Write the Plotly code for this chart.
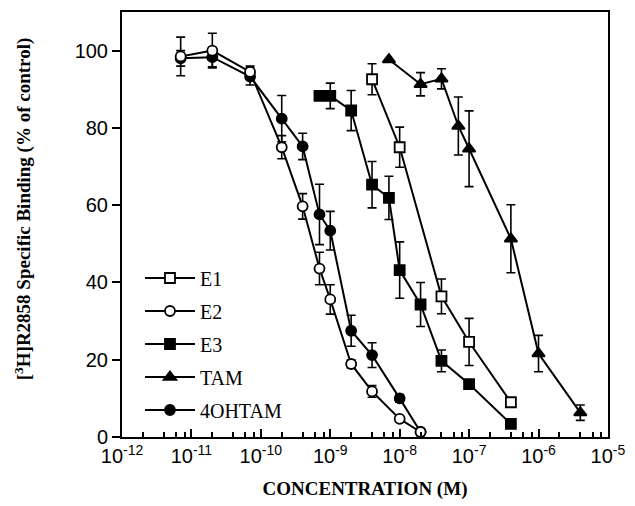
import plotly.graph_objects as go

# Concentrations (M)
e1_x = [4e-9, 1e-8, 4e-8, 1e-7, 4e-7]
e1_y = [92.6, 75.0, 36.4, 24.6, 9.0]
e1_err = [4.0, 5.2, 4.5, 6.1, 1.0]

e2_x = [7e-12, 2e-11, 7e-11, 2e-10, 4e-10, 7e-10, 1e-9, 2e-9, 4e-9, 1e-8, 2e-8]
e2_y = [98.5, 100.0, 94.5, 75.0, 59.7, 43.6, 35.6, 18.9, 11.8, 4.7, 1.3]
e2_err = [5.0, 4.5, 1.5, 3.0, 3.3, 4.2, 3.8, 1.0, 1.5, 0.5, 0.5]

e3_x = [7e-10, 1e-9, 2e-9, 4e-9, 7e-9, 1e-8, 2e-8, 4e-8, 1e-7, 4e-7]
e3_y = [88.3, 88.3, 84.5, 65.3, 61.9, 43.2, 34.3, 19.7, 13.7, 3.4]
e3_err = [0.0, 3.3, 5.2, 6.0, 5.6, 7.3, 5.7, 2.8, 0.5, 0.3]

tam_x = [7e-9, 2e-8, 4e-8, 7e-8, 1e-7, 4e-7, 1e-6, 4e-6]
tam_y = [97.7, 91.3, 92.7, 80.5, 74.6, 51.3, 21.6, 6.3]
tam_err = [0.0, 3.0, 2.6, 7.5, 9.8, 8.8, 4.7, 2.0]

oh_x = [7e-12, 2e-11, 7e-11, 2e-10, 4e-10, 7e-10, 1e-9, 2e-9, 4e-9, 1e-8, 2e-8]
oh_y = [98.0, 98.3, 93.3, 82.4, 75.2, 57.6, 53.4, 27.5, 21.2, 10.0, 1.3]
oh_err = [2.0, 2.5, 2.2, 6.0, 3.4, 7.8, 5.0, 4.0, 3.2, 1.0, 0.5]

x_ticks = [1e-12, 1e-11, 1e-10, 1e-9, 1e-8, 1e-7, 1e-6, 1e-5]
x_tick_text = ["10<sup>-12</sup>", "10<sup>-11</sup>", "10<sup>-10</sup>", "10<sup>-9</sup>",
               "10<sup>-8</sup>", "10<sup>-7</sup>", "10<sup>-6</sup>", "10<sup>-5</sup>"]
y_ticks = [0, 20, 40, 60, 80, 100]

BLACK = "#000000"
SERIF = "Liberation Serif, Times New Roman, serif"
SANS = "Liberation Sans, Arial, sans-serif"

def trace(name, x, y, err, symbol, fill, rank):
    return go.Scatter(
        x=x, y=y, name=name, mode="lines+markers",
        line=dict(color=BLACK, width=2),
        marker=dict(symbol=symbol, size=10 if "triangle" not in symbol else 11,
                    color=fill, line=dict(color=BLACK, width=1.8)),
        error_y=dict(type="data", array=err, visible=True, color=BLACK,
                     thickness=1.6, width=4.5),
        legendrank=rank, legendgroup=name,
    )

fig = go.Figure()
fig.add_trace(trace("4OHTAM", oh_x, oh_y, oh_err, "circle", BLACK, 5))
fig.add_trace(trace("E2", e2_x, e2_y, e2_err, "circle", "white", 2))
fig.add_trace(trace("E3", e3_x, e3_y, e3_err, "square", BLACK, 3))
fig.add_trace(trace("E1", e1_x, e1_y, e1_err, "square", "white", 1))
fig.add_trace(trace("TAM", tam_x, tam_y, tam_err, "triangle-up", BLACK, 4))

minor_vals = []
for d in range(-12, -5):
    for m in [2, 4, 6, 8]:
        minor_vals.append(m * 10 ** d)

fig.update_layout(
    width=635, height=506,
    margin=dict(l=122, r=22, t=10, b=65),
    paper_bgcolor="white", plot_bgcolor="white",
    showlegend=True,
    legend=dict(x=0.037, y=0.42, xanchor="left", yanchor="top",
                font=dict(family=SERIF, size=20, color=BLACK),
                bgcolor="rgba(0,0,0,0)", tracegroupgap=4, itemwidth=50),
    xaxis=dict(
        type="log", range=[-12, -4.999], tickvals=x_ticks, ticktext=x_tick_text,
        ticks="inside", ticklen=8, tickwidth=1.5, tickcolor=BLACK,
        minor=dict(tickvals=minor_vals, ticks="inside", ticklen=5,
                   tickwidth=1.5, tickcolor=BLACK, showgrid=False),
        showline=True, linecolor=BLACK, linewidth=2, mirror=True,
        showgrid=False, zeroline=False,
        tickfont=dict(family=SANS, size=20, color=BLACK),
        title=dict(text="<b>CONCENTRATION (M)</b>",
                   font=dict(family=SERIF, size=19, color=BLACK), standoff=16),
    ),
    yaxis=dict(
        range=[0, 110], tickvals=y_ticks,
        ticks="outside", ticklen=8, tickwidth=1.5, tickcolor=BLACK,
        showline=True, linecolor=BLACK, linewidth=2, mirror=True,
        showgrid=False, zeroline=False,
        tickfont=dict(family=SANS, size=20, color=BLACK),
    ),
    annotations=[dict(
        text="<b>[<sup>3</sup>H]R2858 Specific Binding (% of control)</b>",
        font=dict(family=SERIF, size=19, color=BLACK),
        xref="paper", yref="paper", x=-0.204, y=0.538,
        xanchor="center", yanchor="middle", textangle=-90, showarrow=False,
    )],
)

fig.write_html("out.html")
